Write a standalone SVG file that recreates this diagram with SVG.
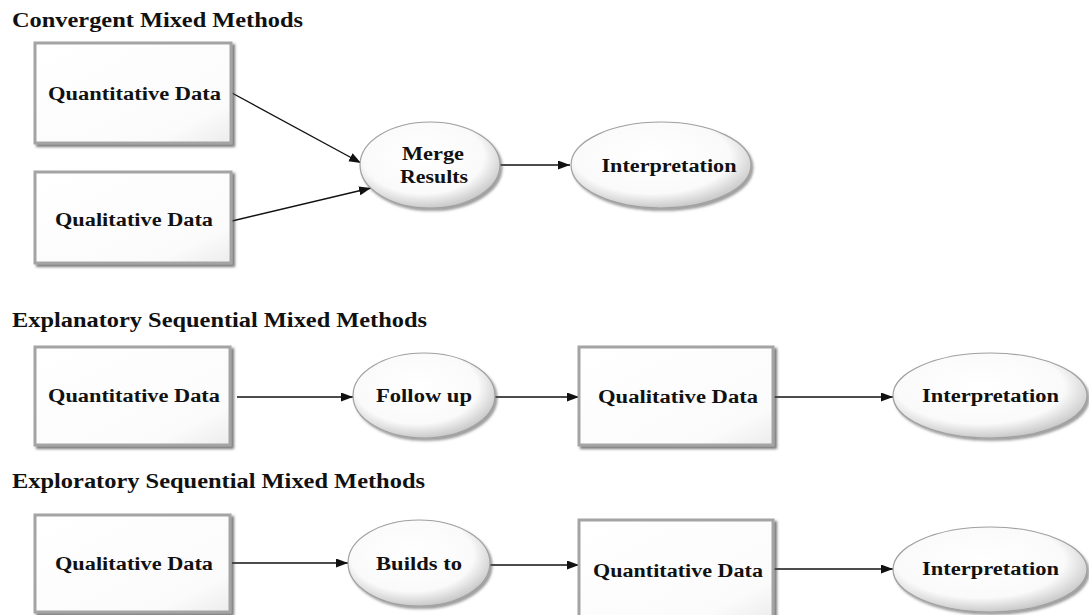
<svg xmlns="http://www.w3.org/2000/svg" width="1089" height="615" viewBox="0 0 1089 615">
  <defs>
    <style>
      text { font-family: "Liberation Serif", "Times New Roman", serif; font-weight: bold; fill: #111; }
      .title { font-size: 20px; }
      .label { font-size: 18.5px; text-anchor: middle; }
      .box { fill: url(#boxFill); stroke: #a4a4a4; stroke-width: 3; filter: url(#boxShadow); }
      .oval { fill: url(#ovalFill); stroke: #a0a0a0; stroke-width: 1.2; filter: url(#shadow); }
      .link { stroke: #111; stroke-width: 1.4; fill: none; marker-end: url(#arrow); }
    </style>
    <linearGradient id="boxFill" x1="0" y1="0" x2="1" y2="1">
      <stop offset="0" stop-color="#ffffff"/>
      <stop offset="0.8" stop-color="#fbfbfb"/>
      <stop offset="1" stop-color="#ececec"/>
    </linearGradient>
    <radialGradient id="ovalFill" cx="0.45" cy="0.4" r="0.62">
      <stop offset="0" stop-color="#ffffff"/>
      <stop offset="0.7" stop-color="#fafafa"/>
      <stop offset="1" stop-color="#c4c4c4"/>
    </radialGradient>
    <filter id="shadow" x="-10%" y="-10%" width="125%" height="130%">
      <feDropShadow dx="2" dy="2.5" stdDeviation="1.2" flood-color="#505050" flood-opacity="0.55"/>
    </filter>
    <filter id="boxShadow" x="-10%" y="-10%" width="125%" height="130%">
      <feDropShadow dx="2.5" dy="2.5" stdDeviation="1" flood-color="#404040" flood-opacity="0.7"/>
    </filter>
    <marker id="arrow" markerUnits="userSpaceOnUse" markerWidth="13" markerHeight="10" refX="12" refY="4.5" orient="auto">
      <path d="M0,0 L12,4.5 L0,9 z" fill="#111"/>
    </marker>
  </defs>

  <rect width="1089" height="615" fill="#ffffff"/>

  <!-- section headings -->
  <text class="title" x="12" y="27" textLength="291" lengthAdjust="spacingAndGlyphs">Convergent Mixed Methods</text>
  <text class="title" x="12" y="327" textLength="415" lengthAdjust="spacingAndGlyphs">Explanatory Sequential Mixed Methods</text>
  <text class="title" x="12" y="488" textLength="413" lengthAdjust="spacingAndGlyphs">Exploratory Sequential Mixed Methods</text>

  <!-- connectors -->
  <g id="connectors">
    <line class="link" x1="232" y1="93" x2="361" y2="163"/>
    <line class="link" x1="232" y1="221" x2="371" y2="188"/>
    <line class="link" x1="500" y1="165" x2="570" y2="165"/>

    <line class="link" x1="237" y1="397" x2="353" y2="397"/>
    <line class="link" x1="495" y1="397" x2="579" y2="397"/>
    <line class="link" x1="774" y1="397" x2="893" y2="397"/>

    <line class="link" x1="232" y1="563" x2="348" y2="563"/>
    <line class="link" x1="490" y1="565" x2="579" y2="565"/>
    <line class="link" x1="774" y1="569" x2="893" y2="569"/>
  </g>

  <!-- convergent design -->
  <g id="conv-quant">
    <rect class="box" x="35" y="43" width="196" height="100"/>
    <text class="label" x="134.5" y="100" textLength="173" lengthAdjust="spacingAndGlyphs">Quantitative Data</text>
  </g>
  <g id="conv-qual">
    <rect class="box" x="35" y="172" width="196" height="91"/>
    <text class="label" x="134" y="226" textLength="158" lengthAdjust="spacingAndGlyphs">Qualitative Data</text>
  </g>
  <g id="conv-merge">
    <ellipse class="oval" cx="430" cy="165" rx="70" ry="43"/>
    <text class="label" x="433" y="160" textLength="62" lengthAdjust="spacingAndGlyphs">Merge</text>
    <text class="label" x="434" y="183" textLength="68" lengthAdjust="spacingAndGlyphs">Results</text>
  </g>
  <g id="conv-interp">
    <ellipse class="oval" cx="661" cy="165" rx="90" ry="43"/>
    <text class="label" x="669" y="172" textLength="135" lengthAdjust="spacingAndGlyphs">Interpretation</text>
  </g>

  <!-- explanatory sequential design -->
  <g id="expl-quant">
    <rect class="box" x="35" y="347" width="195" height="98"/>
    <text class="label" x="134" y="402" textLength="172" lengthAdjust="spacingAndGlyphs">Quantitative Data</text>
  </g>
  <g id="expl-follow">
    <ellipse class="oval" cx="424" cy="395.5" rx="71" ry="42.5"/>
    <text class="label" x="424" y="402" textLength="96" lengthAdjust="spacingAndGlyphs">Follow up</text>
  </g>
  <g id="expl-qual">
    <rect class="box" x="579" y="347" width="194" height="98"/>
    <text class="label" x="678" y="403" textLength="160" lengthAdjust="spacingAndGlyphs">Qualitative Data</text>
  </g>
  <g id="expl-interp">
    <ellipse class="oval" cx="990" cy="395.5" rx="97" ry="42.5"/>
    <text class="label" x="990.5" y="402" textLength="137" lengthAdjust="spacingAndGlyphs">Interpretation</text>
  </g>

  <!-- exploratory sequential design -->
  <g id="explo-qual">
    <rect class="box" x="35" y="515" width="195" height="97"/>
    <text class="label" x="134" y="570" textLength="158" lengthAdjust="spacingAndGlyphs">Qualitative Data</text>
  </g>
  <g id="explo-builds">
    <ellipse class="oval" cx="419" cy="563" rx="71" ry="43"/>
    <text class="label" x="419" y="570" textLength="86" lengthAdjust="spacingAndGlyphs">Builds to</text>
  </g>
  <g id="explo-quant">
    <rect class="box" x="579" y="520" width="194" height="100"/>
    <text class="label" x="678" y="577" textLength="170" lengthAdjust="spacingAndGlyphs">Quantitative Data</text>
  </g>
  <g id="explo-interp">
    <ellipse class="oval" cx="990" cy="569.5" rx="97" ry="42.5"/>
    <text class="label" x="990.5" y="575" textLength="137" lengthAdjust="spacingAndGlyphs">Interpretation</text>
  </g>
</svg>
